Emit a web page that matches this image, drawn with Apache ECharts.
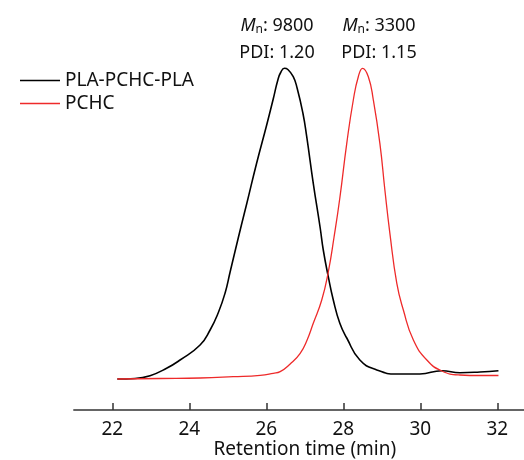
<!DOCTYPE html>
<html>
<head>
<meta charset="utf-8">
<script src="https://cdn.jsdelivr.net/npm/echarts@6/dist/echarts.min.js"></script>
<style>
html,body{margin:0;padding:0;background:#fff;}
#chart{width:524px;height:460px;}
</style>
</head>
<body>
<div id="chart"></div>
<script>
// Tick labels on the x axis
const xTicks = [22, 24, 26, 28, 30, 32];
const seriesNames = ['PLA-PCHC-PLA', 'PCHC'];

// PLA-PCHC-PLA trace (retention time in min, detector response in arb. units)
const timeBlack = [22.13, 22.59, 22.98, 23.41, 23.76, 24.28, 24.54, 24.75, 24.93, 25.06, 25.19, 25.36, 25.49, 25.75, 26.01, 26.18, 26.30, 26.38, 26.47, 26.56, 26.70, 26.80, 26.95, 27.05, 27.22, 27.40, 27.48, 27.61, 27.74, 27.91, 28.09, 28.43, 28.87, 29.39, 29.99, 30.56, 31.03, 31.55, 32.03];
const signalBlack = [31, 31.5, 34.3, 41.7, 50, 65, 80, 97, 117, 138, 159, 186, 206, 247, 285, 311, 330, 338, 341.7, 340.5, 333.3, 322, 297, 273.3, 226.7, 182, 160, 133.3, 110, 86.7, 72, 50, 40, 36, 36, 39.3, 37.3, 38, 39.3];

// PCHC trace
const timeRed = [22.13, 23.24, 24.28, 25.14, 25.84, 26.18, 26.36, 26.62, 26.88, 27.06, 27.22, 27.44, 27.61, 27.76, 27.91, 28.09, 28.26, 28.39, 28.50, 28.65, 28.78, 28.95, 29.08, 29.21, 29.39, 29.56, 29.82, 30.17, 30.56, 31.03, 31.55, 32.03];
const signalRed = [31, 31.5, 32, 33.3, 34.7, 36.7, 38.3, 46, 56.7, 70, 86.7, 110, 138, 173, 212, 266.7, 310, 333.3, 341.7, 333.3, 310, 266.7, 220, 176.7, 126.7, 100, 70, 50, 39, 35, 34.5, 34.5];

// Annotation texts
const annotBlack = ['{i|M}{s|n}: 9800', 'PDI: 1.20'];
const annotRed = ['{i|M}{s|n}: 3300', 'PDI: 1.15'];

const FONT = 'Noto Sans';
const chart = echarts.init(document.getElementById('chart'), null, {renderer: 'canvas'});

const rich = {
  i: {fontStyle: 'italic', fontSize: 18, fontFamily: FONT, color: '#111'},
  s: {fontSize: 12, fontFamily: FONT, color: '#111', padding: [8, 0, 0, 0]}
};

function annot(lines, cx) {
  return lines.map((t, k) => ({
    type: 'text',
    x: cx, y: 26 + k * 27,
    style: {
      text: t, rich: rich, fill: '#111',
      fontSize: 18, fontFamily: FONT,
      align: 'center', verticalAlign: 'middle'
    }
  }));
}

chart.setOption({
  animation: false,
  backgroundColor: '#fff',
  grid: {left: 73.8, width: 462, top: 10, bottom: 50, outerBoundsMode: 'none', containLabel: false},
  legend: {
    orient: 'vertical', left: 15, top: 66, itemWidth: 40, itemHeight: 1.4, itemGap: 4,
    icon: 'rect',
    data: seriesNames,
    textStyle: {fontSize: 19, fontFamily: FONT, color: '#111', lineHeight: 19}
  },
  xAxis: {
    type: 'value', min: 21, max: 33,
    name: 'Retention time (min)', nameLocation: 'middle', nameGap: 30, nameMoveOverlap: false,
    nameTextStyle: {fontSize: 19, fontFamily: FONT, color: '#111'},
    axisLine: {lineStyle: {color: '#333', width: 1.5}},
    axisTick: {inside: true, length: 7, customValues: xTicks, lineStyle: {color: '#333', width: 1.5}},
    axisLabel: {customValues: xTicks, margin: 10, fontSize: 19, fontFamily: FONT, color: '#111'},
    splitLine: {show: false}
  },
  yAxis: {type: 'value', min: 0, max: 400, show: false},
  series: [
    {
      name: seriesNames[0], type: 'line', symbol: 'none', smooth: 0.5,
      lineStyle: {color: '#000', width: 1.6}, itemStyle: {color: '#000'},
      data: timeBlack.map((t, i) => [t, signalBlack[i]])
    },
    {
      name: seriesNames[1], type: 'line', symbol: 'none', smooth: 0.5,
      lineStyle: {color: '#ee2a2a', width: 1.3}, itemStyle: {color: '#ee2a2a'},
      data: timeRed.map((t, i) => [t, signalRed[i]])
    }
  ],
  graphic: annot(annotBlack, 277).concat(annot(annotRed, 379))
});
</script>
</body>
</html>
